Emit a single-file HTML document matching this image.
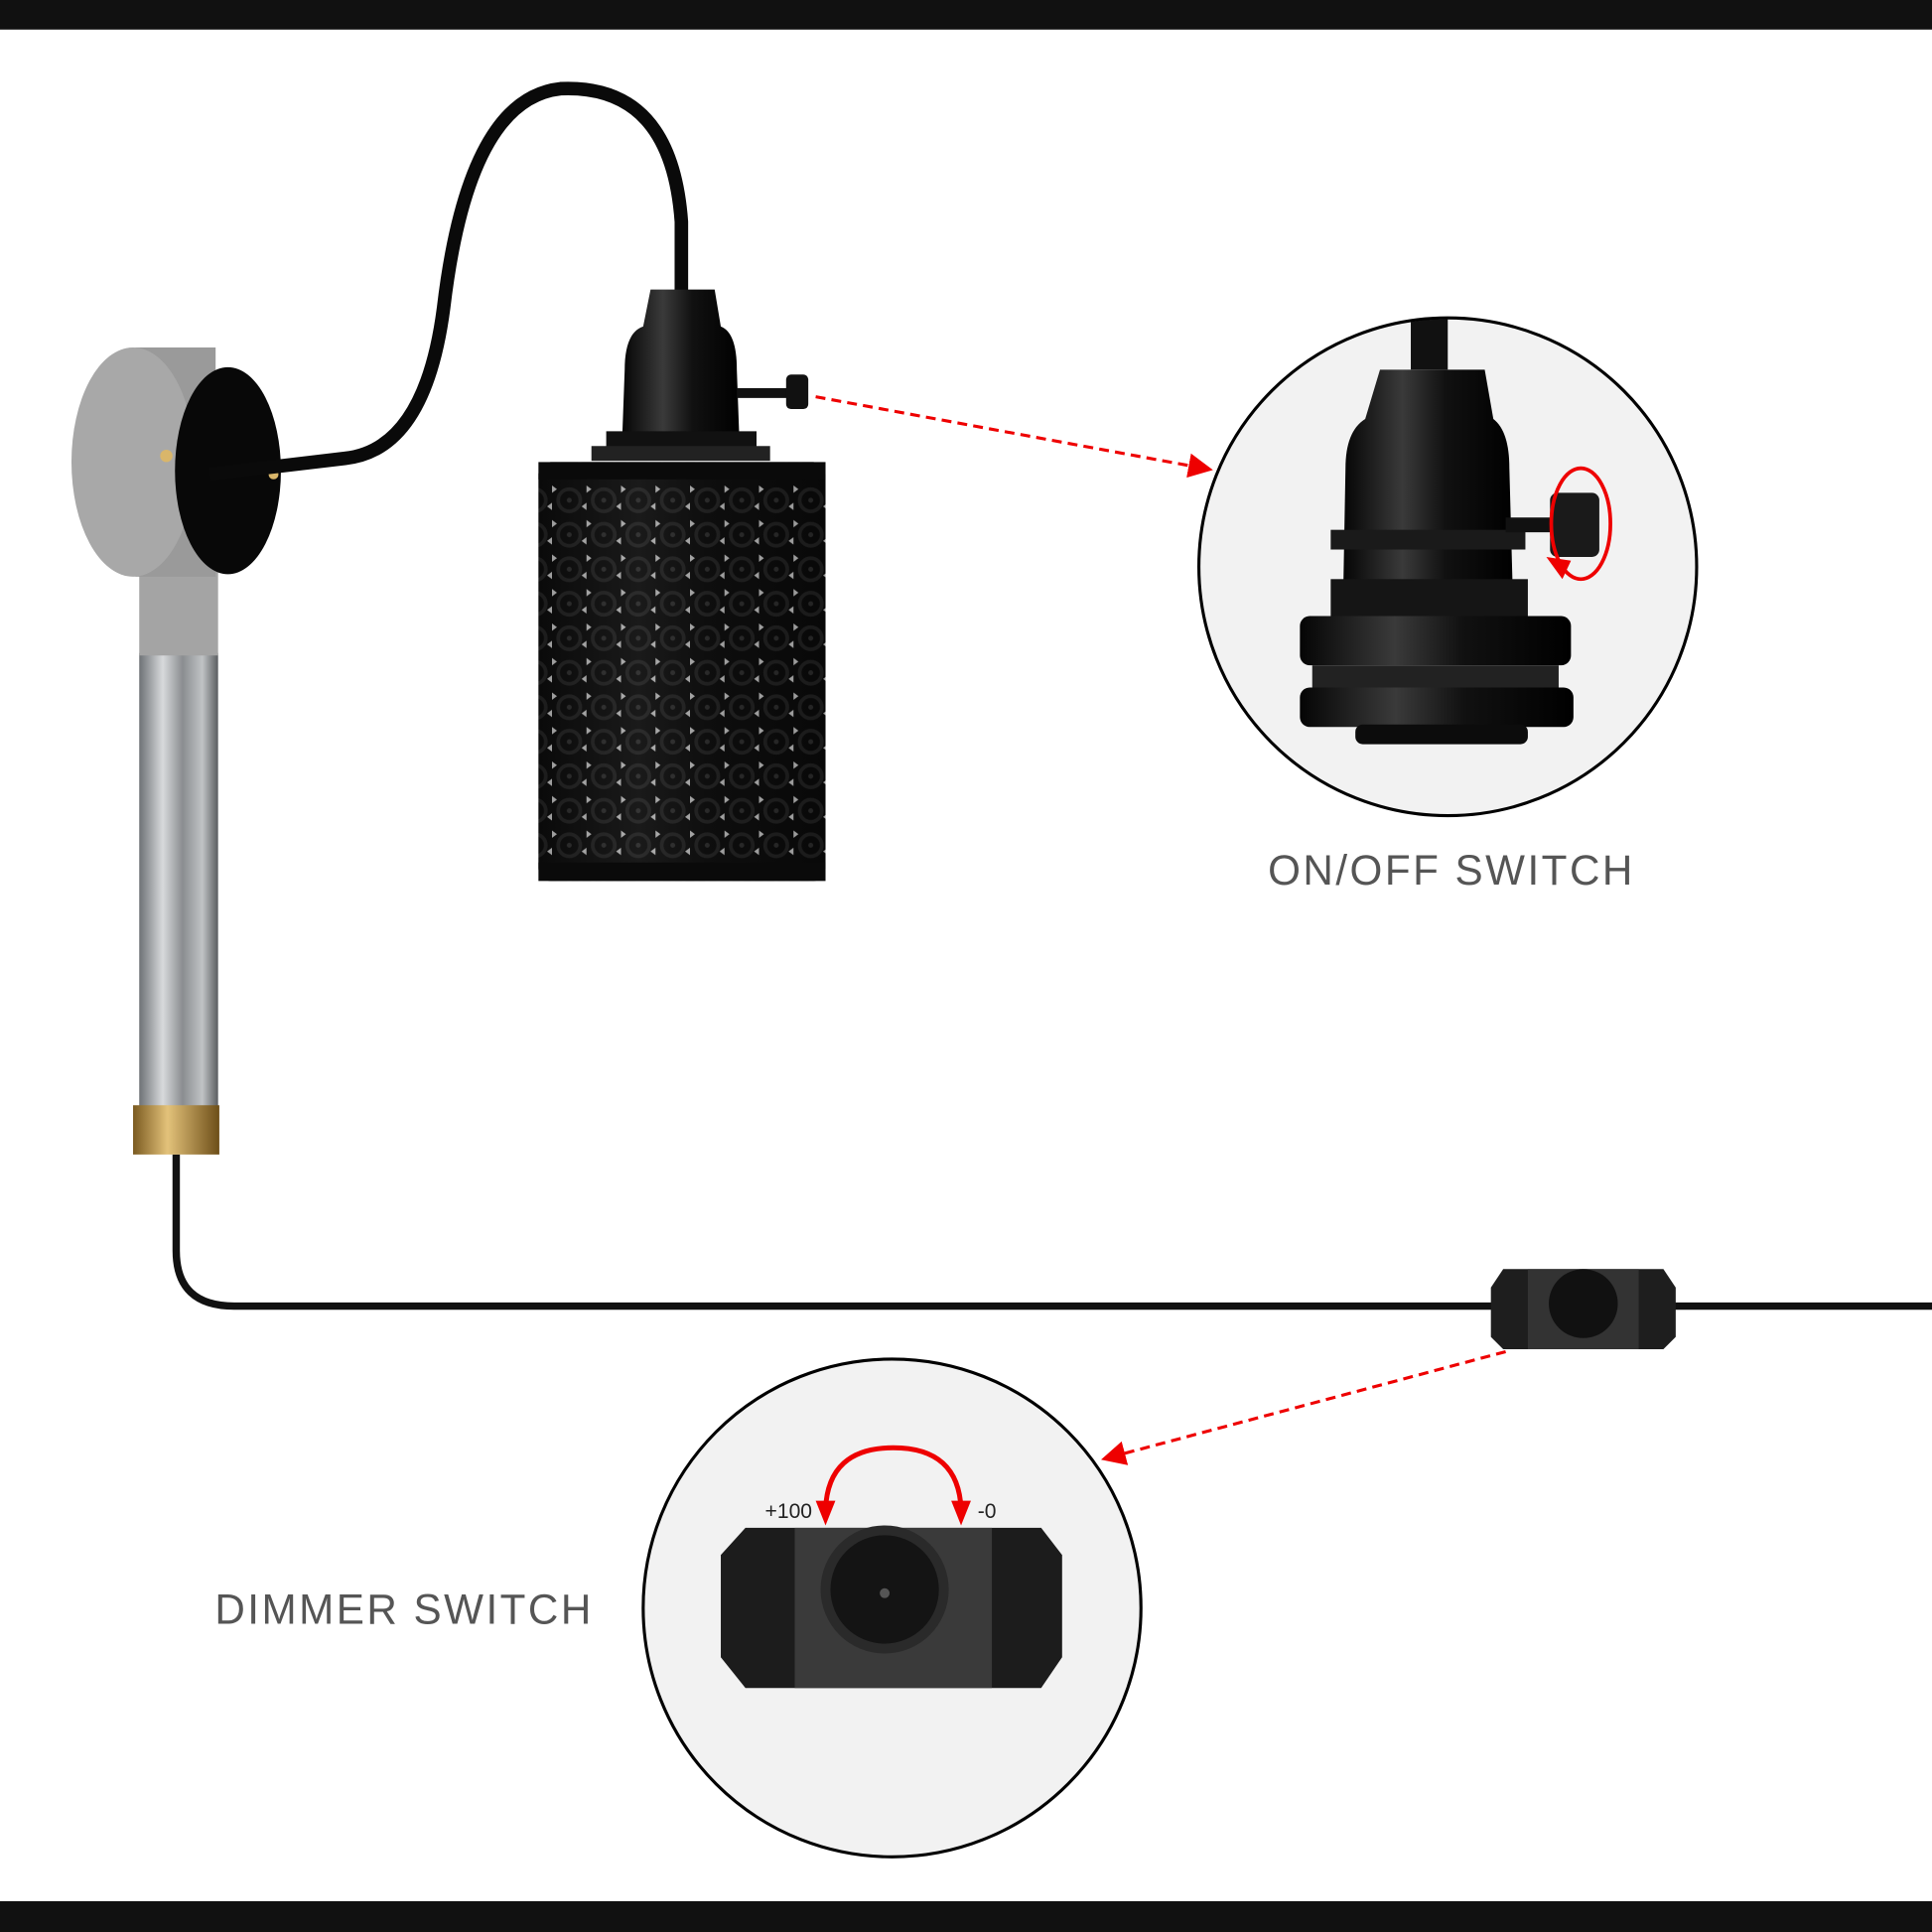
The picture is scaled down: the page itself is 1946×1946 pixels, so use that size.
<!DOCTYPE html>
<html><head><meta charset="utf-8"><style>
html,body{margin:0;padding:0;background:#fff;}
svg{display:block;}
text{font-family:"Liberation Sans",sans-serif;}
</style></head><body>
<svg width="1946" height="1946" viewBox="0 0 1568 1568" xmlns="http://www.w3.org/2000/svg">
<defs>
<linearGradient id="pipe" x1="0" x2="1">
<stop offset="0" stop-color="#6e7276"/><stop offset="0.3" stop-color="#d8dadc"/><stop offset="0.55" stop-color="#8a8d90"/><stop offset="0.8" stop-color="#c0c3c5"/><stop offset="1" stop-color="#5a5d60"/></linearGradient>
<linearGradient id="brass" x1="0" x2="1"><stop offset="0" stop-color="#7a5a20"/><stop offset="0.4" stop-color="#e3c27a"/><stop offset="1" stop-color="#6d4e18"/></linearGradient>
<linearGradient id="blk" x1="0" x2="1"><stop offset="0" stop-color="#050505"/><stop offset="0.35" stop-color="#3a3a3a"/><stop offset="0.6" stop-color="#111"/><stop offset="1" stop-color="#000"/></linearGradient>
<pattern id="flower" width="28" height="28" patternUnits="userSpaceOnUse">
<rect width="28" height="28" fill="#0c0c0c"/>
<circle cx="14" cy="14" r="9" fill="none" stroke="#262626" stroke-width="3"/>
<path d="M0 2 L4 5 L0 8Z M28 16 L24 19 L28 22Z" fill="#ddd"/>
<circle cx="14" cy="14" r="2" fill="#333"/>
</pattern>
<marker id="ah" markerWidth="8" markerHeight="8" refX="7" refY="4" orient="auto"><path d="M0 0 L8 4 L0 8Z" fill="#e00"/></marker>
</defs>
<rect width="1568" height="1568" fill="#fff"/>
<rect width="1568" height="24" fill="#111"/>
<rect y="1543" width="1568" height="25" fill="#111"/>

<path d="M143 937 L143 1015 Q143 1060 190 1060 L1568 1060" fill="none" stroke="#111" stroke-width="6"/>
<rect x="113" y="530" width="64" height="370" fill="url(#pipe)"/>
<rect x="113" y="460" width="64" height="72" fill="#a4a4a4"/>
<rect x="108" y="897" width="70" height="40" fill="url(#brass)"/>
<path d="M110 282 L175 282 L175 468 L110 468Z" fill="#9a9a9a"/>
<ellipse cx="108" cy="375" rx="50" ry="93" fill="#a8a8a8"/>
<ellipse cx="185" cy="382" rx="43" ry="84" fill="#080808"/>
<circle cx="135" cy="370" r="5" fill="#d9b66a"/>
<circle cx="222" cy="385" r="4" fill="#d9b66a"/>
<path d="M170 385 L280 372 Q345 365 360 250 Q380 80 455 72 Q545 68 553 180 L553 240" fill="none" stroke="#0a0a0a" stroke-width="11"/>
<path d="M528 235 L580 235 L585 265 Q598 270 598 300 L600 355 L505 355 L507 300 Q507 270 522 265Z" fill="url(#blk)"/>
<rect x="492" y="350" width="122" height="14" fill="#111"/>
<rect x="480" y="362" width="145" height="12" fill="#222"/>
<rect x="598" y="315" width="42" height="8" fill="#111"/>
<rect x="638" y="304" width="18" height="28" rx="4" fill="#111"/>
<rect x="437" y="375" width="233" height="340" rx="10" fill="url(#flower)"/>
<rect x="437" y="375" width="233" height="340" rx="10" fill="url(#blk)" opacity="0.3"/>
<rect x="437" y="375" width="233" height="14" fill="#0a0a0a"/>
<rect x="437" y="700" width="233" height="15" fill="#0a0a0a"/>

<line x1="662" y1="322" x2="982" y2="381" stroke="#e00" stroke-width="2.5" stroke-dasharray="8 5" marker-end="url(#ah)"/>
<circle cx="1175" cy="460" r="202" fill="#f2f2f2" stroke="#000" stroke-width="2.5"/>
<clipPath id="c1"><circle cx="1175" cy="460" r="201"/></clipPath>
<g clip-path="url(#c1)">
<rect x="1145" y="255" width="30" height="45" fill="#111"/>
<path d="M1120 300 L1205 300 L1212 340 Q1225 350 1225 380 L1228 490 L1090 490 L1092 380 Q1092 350 1108 340Z" fill="url(#blk)"/>
<rect x="1080" y="430" width="158" height="16" fill="#1a1a1a"/>
<rect x="1080" y="470" width="160" height="30" fill="#151515"/>
<rect x="1055" y="500" width="220" height="40" rx="8" fill="url(#blk)"/>
<rect x="1065" y="540" width="200" height="20" fill="#222"/>
<rect x="1055" y="558" width="222" height="32" rx="8" fill="url(#blk)"/>
<rect x="1100" y="588" width="140" height="16" rx="6" fill="#0c0c0c"/>
<rect x="1222" y="420" width="40" height="12" fill="#111"/>
<rect x="1258" y="400" width="40" height="52" rx="6" fill="#1a1a1a"/>
<ellipse cx="1283" cy="425" rx="24" ry="45" fill="none" stroke="#e00" stroke-width="3"/>
<path d="M1268 470 L1255 452 L1275 455Z" fill="#e00"/>
</g>
<text x="1178" y="718" font-size="34" fill="#555" text-anchor="middle" letter-spacing="2">ON/OFF SWITCH</text>

<path d="M1220 1030 L1350 1030 L1360 1045 L1360 1085 L1350 1095 L1220 1095 L1210 1085 L1210 1045Z" fill="#1e1e1e"/>
<rect x="1240" y="1030" width="90" height="65" fill="#333"/>
<circle cx="1285" cy="1058" r="28" fill="#111"/>

<line x1="1222" y1="1097" x2="896" y2="1184" stroke="#e00" stroke-width="2.5" stroke-dasharray="8 5" marker-end="url(#ah)"/>
<circle cx="724" cy="1305" r="202" fill="#f2f2f2" stroke="#000" stroke-width="2.5"/>
<path d="M605 1240 L845 1240 L862 1262 L862 1345 L845 1370 L605 1370 L585 1345 L585 1262Z" fill="#1c1c1c"/>
<rect x="645" y="1240" width="160" height="130" fill="#3a3a3a"/>
<circle cx="718" cy="1290" r="52" fill="#2a2a2a"/>
<circle cx="718" cy="1290" r="44" fill="#141414"/>
<circle cx="718" cy="1293" r="4" fill="#555"/>
<path d="M670 1225 Q672 1175 725 1175 Q778 1175 780 1225" fill="none" stroke="#e00" stroke-width="4"/>
<path d="M662 1218 L678 1218 L670 1238Z M772 1218 L788 1218 L780 1238Z" fill="#e00"/>
<text x="640" y="1232" font-size="17" fill="#222" text-anchor="middle">+100</text>
<text x="801" y="1232" font-size="17" fill="#222" text-anchor="middle">-0</text>
<text x="328" y="1318" font-size="34" fill="#555" text-anchor="middle" letter-spacing="2">DIMMER SWITCH</text>
</svg>
</body></html>
